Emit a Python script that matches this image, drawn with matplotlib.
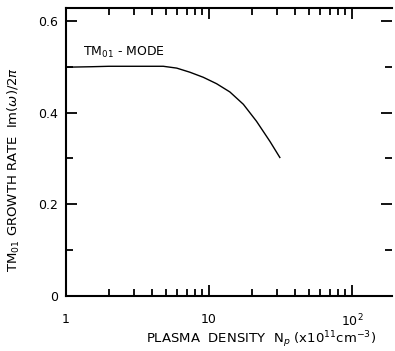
import numpy as np
import matplotlib
matplotlib.use("Agg")
import matplotlib.pyplot as plt
from matplotlib.ticker import FixedLocator, NullFormatter

# Data
density = [1.0, 1.5, 2.0, 3.0, 3.87, 4.79, 5.95, 7.36, 9.12, 11.3, 14.0, 17.4, 21.5, 26.7, 31.3]
growth = [0.499, 0.500, 0.501, 0.501, 0.501, 0.501, 0.497, 0.488, 0.477, 0.463, 0.445, 0.418, 0.381, 0.337, 0.302]

xticks = [1, 10, 100]
xticklabels = ["1", "10", r"10$^2$"]
yticks = [0, 0.2, 0.4, 0.6]
yticklabels = ["0", "0.2", "0.4", "0.6"]
yminor = [0.1, 0.3, 0.5]

plt.rcParams['font.family'] = ['DejaVu Sans']
fig = plt.figure(figsize=(3.95, 3.51), dpi=100)
ax = fig.add_axes([0.167, 0.157, 0.825, 0.82])

ax.plot(density, growth, color="black", lw=1.0)
ax.set_xscale("log")
ax.set_xlim(1, 190)
ax.set_ylim(0, 0.628)

ax.xaxis.set_major_locator(FixedLocator(xticks))
ax.set_xticklabels(xticklabels)
ax.xaxis.set_minor_locator(FixedLocator([v * d for d in (1, 10) for v in range(2, 10)]))
ax.xaxis.set_minor_formatter(NullFormatter())
ax.set_yticks(yticks)
ax.set_yticklabels(yticklabels)
ax.yaxis.set_minor_locator(FixedLocator(yminor))

ax.spines["right"].set_visible(False)
for s in ("left", "bottom", "top"):
    ax.spines[s].set_linewidth(1.5)

ax.tick_params(which="both", direction="in", top=True, right=True, width=1.3, labelsize=9)
ax.tick_params(which="major", length=8)
ax.tick_params(which="minor", length=5)
ax.tick_params(axis="x", pad=12)
ax.tick_params(axis="y", pad=6)

ax.text(0.052, 0.835, r"TM$_{01}$ - MODE", transform=ax.transAxes, fontsize=9)
ax.set_ylabel(r"TM$_{01}$ GROWTH RATE  Im($\omega$)/2$\pi$", fontsize=9.5)
ax.yaxis.set_label_coords(-0.135, 0.44)
ax.set_xlabel(r"PLASMA  DENSITY  N$_p$ (x10$^{11}$cm$^{-3}$)", fontsize=9.5)
ax.xaxis.set_label_coords(0.6, -0.115)

fig.savefig("out.png", dpi=100)
